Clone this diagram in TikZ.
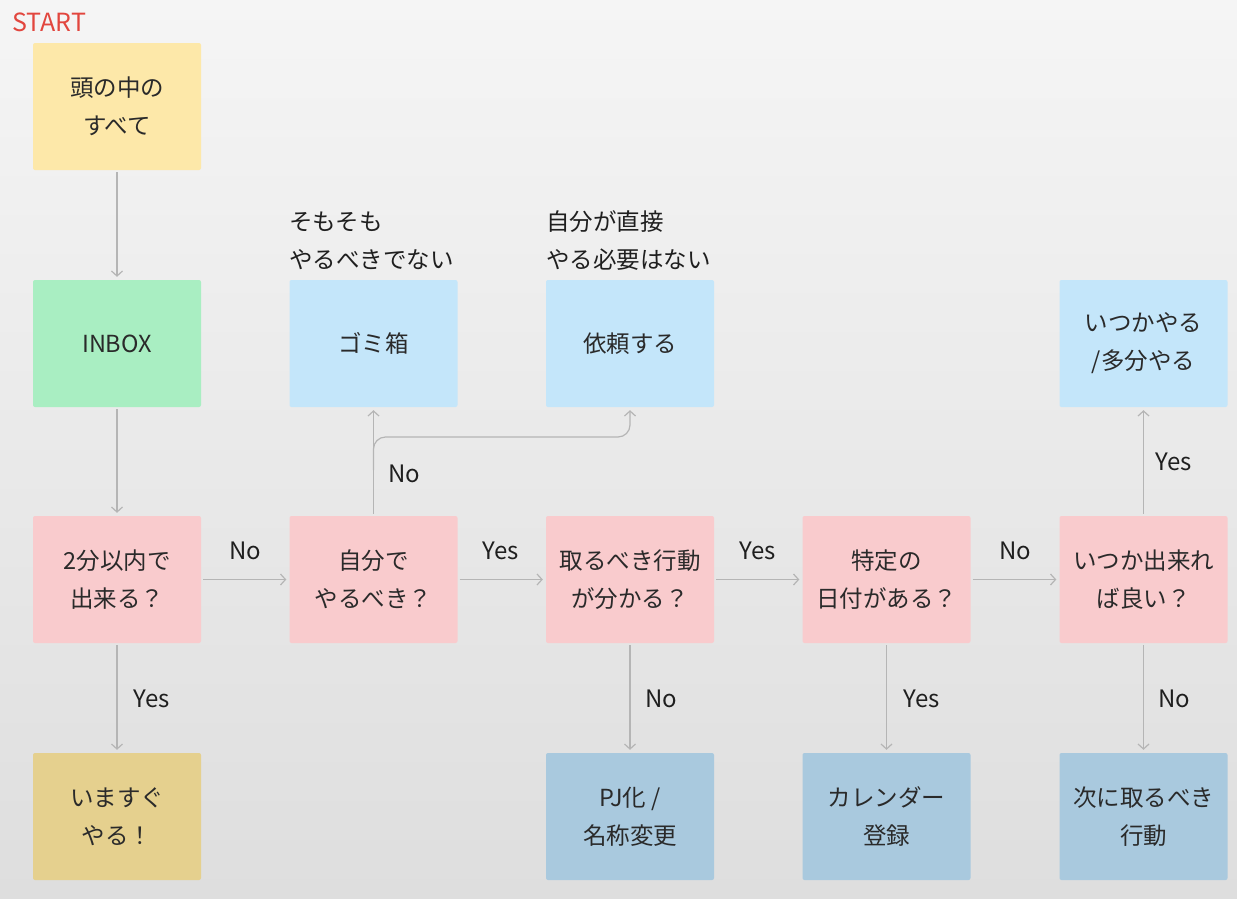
\documentclass[tikz,border=0pt]{standalone}
\usepackage{fontspec}
\setmainfont{Noto Sans CJK JP}
\usetikzlibrary{arrows.meta}
\definecolor{bgtop}{HTML}{F5F5F5}
\definecolor{bgbot}{HTML}{DEDEDE}
\definecolor{cyellow}{HTML}{FDE8A9}
\definecolor{cgreen}{HTML}{A9EEC2}
\definecolor{cblue}{HTML}{C4E6FA}
\definecolor{cpink}{HTML}{F9CBCD}
\definecolor{ctan}{HTML}{E5D08E}
\definecolor{csteel}{HTML}{A9C9DE}
\definecolor{cline}{HTML}{B5B5B5}
\definecolor{ctext}{HTML}{2A2A2A}
\definecolor{cstart}{HTML}{E2463E}
\tikzset{
  box/.style={minimum width=168pt, minimum height=127pt, inner sep=0pt, rounded corners=2pt,
    align=center, font=\fontsize{23.5}{38}\selectfont, text=ctext},
  arr/.style={draw=cline, line width=1.2pt, -{Straight Barb[length=5pt,width=11pt]}, shorten >=3pt, shorten <=2pt},
  lbl/.style={font=\fontsize{24}{28}\selectfont, text=black!88, inner sep=0pt},
  annot/.style={font=\fontsize{23.5}{28}\selectfont, text=black!88, inner sep=0pt, anchor=west}
}
\begin{document}
\begin{tikzpicture}[x=1pt,y=-1pt]
\shade[top color=bgtop, bottom color=bgbot] (0,0) rectangle (1237,898);
\useasboundingbox (0,0) rectangle (1237,898);
\node[font=\fontsize{25}{28}\selectfont, text=cstart, anchor=west, inner sep=0pt] (start) at (12,22) {START};
% row 1 & 2
\node[box, fill=cyellow] (atama) at (117,106.5) {頭の中の\\すべて};
\node[box, fill=cgreen] (inbox) at (117,343.5) {INBOX};
\node[box, fill=cblue] (gomi) at (373.5,343.5) {ゴミ箱};
\node[box, fill=cblue] (irai) at (630,343.5) {依頼する};
\node[box, fill=cblue] (itsuka) at (1143.5,343.5) {いつかやる\\/多分やる};
% row 3
\node[box, fill=cpink] (nifun) at (117,579.5) {2分以内で\\出来る？};
\node[box, fill=cpink] (jibun) at (373.5,579.5) {自分で\\やるべき？};
\node[box, fill=cpink] (toru) at (630,579.5) {取るべき行動\\が分かる？};
\node[box, fill=cpink] (tokutei) at (886.5,579.5) {特定の\\日付がある？};
\node[box, fill=cpink] (itsudeki) at (1143.5,579.5) {いつか出来れ\\ば良い？};
% row 4
\node[box, fill=ctan] (imasugu) at (117,816.5) {いますぐ\\やる！};
\node[box, fill=csteel] (pj) at (630,816.5) {PJ化 /\\名称変更};
\node[box, fill=csteel] (cal) at (886.5,816.5) {カレンダー\\登録};
\node[box, fill=csteel] (tsugi) at (1143.5,816.5) {次に取るべき\\行動};
% annotations
\node[annot] (a1) at (289,222) {そもそも};
\node[annot] (a2) at (289,260) {やるべきでない};
\node[annot] (b1) at (546,222) {自分が直接};
\node[annot] (b2) at (546,260) {やる必要はない};
% arrows
\draw[arr] (atama) -- (inbox);
\draw[arr] (inbox) -- (nifun);
\draw[arr] (nifun) -- (jibun);
\draw[arr] (jibun) -- (toru);
\draw[arr] (toru) -- (tokutei);
\draw[arr] (tokutei) -- (itsudeki);
\draw[arr] (nifun) -- (imasugu);
\draw[arr] (toru) -- (pj);
\draw[arr] (tokutei) -- (cal);
\draw[arr] (itsudeki) -- (tsugi);
\draw[arr] (itsudeki) -- (itsuka);
\draw[arr] (jibun) -- (gomi);
\coordinate (br) at (373.5,470);
\draw[arr, rounded corners=12pt, shorten <=0pt] (br) |- (630,437) -- (irai.south);
% labels
\node[lbl] (l1) at (245,551) {No};
\node[lbl] (l2) at (501,551) {Yes};
\node[lbl] (l3) at (758,551) {Yes};
\node[lbl] (l4) at (1015,551) {No};
\node[lbl] (l5) at (152,699) {Yes};
\node[lbl] (l6) at (661,699) {No};
\node[lbl] (l7) at (922,699) {Yes};
\node[lbl] (l8) at (1174,699) {No};
\node[lbl] (l9) at (1174,462) {Yes};
\node[lbl] (l10) at (404,474) {No};
\end{tikzpicture}
\end{document}
